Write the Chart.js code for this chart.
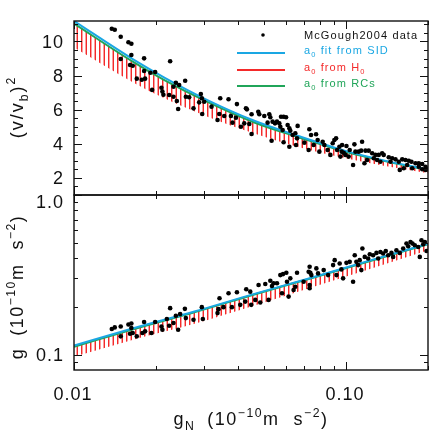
<!DOCTYPE html>
<html>
<head>
<meta charset="utf-8">
<script src="https://cdn.jsdelivr.net/npm/chart.js@4.4.0/dist/chart.umd.min.js"></script>
<style>
  html, body { margin: 0; padding: 0; background: #fff; }
  #wrap { position: relative; width: 436px; height: 436px; }
  #wrap canvas { position: absolute; left: 0; top: 0; }
</style>
</head>
<body>
<div id="wrap">
  <canvas id="chart-top" width="436" height="436"></canvas>
  <canvas id="chart-bottom" width="436" height="436"></canvas>
</div>
<script>
// ---- data ----
// upper panel: (v/vb)^2 against gN
const topX = [0.01377,0.01412,0.01485,0.01585,0.01625,0.01625,0.01485,0.0181,0.01607,0.01644,0.0181,0.01701,0.01775,0.01825,0.01909,0.01987,0.01937,0.02096,0.02113,0.02131,
  0.02256,0.02562,0.02368,0.02435,0.02321,0.02237,0.02321,0.02388,0.02414,0.02577,0.0265,0.02749,0.02926,0.02951,0.03009,0.02884,0.02959,0.03202,0.03369,0.03447,0.03418,0.03565,0.03698,0.03774,0.03825,0.0397,0.03937,0.04107,0.04224,0.04285,0.04321,0.04407,0.04494,0.04494,
  0.04756,0.04797,0.05005,0.05147,0.05221,0.05266,0.05369,0.0548,0.05572,0.05683,0.05766,0.05894,0.06016,0.05732,0.05845,0.06098,0.06186,0.05324,0.05894,0.06237,0.0636,0.06507,0.06636,0.06602,0.06186,0.06546,0.07023,0.07327,0.07434,0.07756,0.07862,0.076,0.07285,0.08203,0.08321,0.07976,0.08557,0.08928,0.09056,0.09188,0.08755,0.09267,0.09448,0.09634,0.09528,0.09799,
  0.09667,0.1003,0.1073,0.1145,0.1031,0.1082,0.1113,0.1136,0.1178,0.1211,0.1247,0.1282,0.1318,0.1357,0.1375,0.1435,0.1477,0.1519,0.1562,0.1608,0.1653,0.17,0.1739,0.1799,0.185,0.1905,0.1959,0.0994,0.1022,0.1061,0.1168,0.1195,0.1264,0.13,0.1337,0.1456,0.1575,0.1629,0.1677,0.175,0.185,0.1905,0.1959,0.199];
const topY = [10.75,10.69,10.28,9.95,9.87,9.21,8.97,9.01,8.62,8.58,8.27,7.82,7.76,7.82,8.17,8.21,7.16,7.29,7.06,6.88,
  8.84,7.70,7.58,7.45,7.35,6.86,6.76,6.51,6.04,6.76,6.73,6.08,6.92,6.67,6.47,6.43,5.75,6.18,5.40,6.67,5.75,5.63,6.61,5.63,5.24,6.33,5.53,5.00,5.20,6.08,6.02,5.16,5.73,4.58,
  5.88,5.73,5.63,5.24,5.73,5.56,5.30,5.20,5.30,5.20,5.59,5.59,5.56,5.00,4.81,5.10,4.91,4.18,4.09,4.77,4.52,4.62,5.05,4.32,3.83,3.93,4.07,4.85,4.52,4.56,4.22,3.93,3.64,4.12,3.93,3.54,3.64,4.03,4.22,4.32,3.35,3.64,3.83,3.54,3.25,3.48,
  3.93,3.87,3.97,4.12,3.64,3.54,3.54,3.60,3.60,3.60,3.45,3.35,3.35,3.45,3.35,3.21,3.15,3.09,2.95,3.09,3.05,3.01,2.95,2.86,2.86,2.82,2.66,3.35,3.25,2.76,2.86,3.05,3.15,3.05,2.95,2.95,2.47,2.57,2.76,2.57,2.66,2.51,2.47,2.51];

// lower panel: g against gN
const botX = [0.01377,0.01412,0.01485,0.01585,0.01625,0.01625,0.01485,0.0181,0.01607,0.01644,0.01784,0.01701,0.01825,0.01926,0.01987,0.02096,0.02113,0.02256,0.02194,0.02237,0.02321,0.02368,0.02414,0.02455,0.02556,0.02577,0.02749,
  0.0295,0.02976,0.03426,0.03397,0.03369,0.03544,0.03698,0.03805,0.0397,0.04083,0.04296,0.04259,0.04444,0.0448,0.04637,0.04768,0.04837,0.05047,0.05266,0.05341,0.0519,0.05414,0.05572,0.05732,0.05864,0.0603,0.06065,0.05815,0.06237,0.06413,0.06507,0.06148,0.06602,0.06982,0.07285,0.07345,
  0.07345,0.07389,0.07452,0.07776,0.07888,0.07345,0.08273,0.08587,0.08959,0.0908,0.0922,0.09471,0.09609,0.09749,0.1003,0.1031,0.1061,0.1076,0.1091,0.1107,0.1122,0.1148,0.1171,0.1138,0.1205,0.1222,0.1257,0.1293,0.1312,0.1337,0.1368,0.1399,0.1428,0.1468,0.1489,0.1531,0.1575,0.1621,0.1667,0.1691,0.1725,0.1754,0.1789,0.1841,0.1893,0.1921,0.1947,0.1866,0.1975];
const botY = [0.1445,0.1479,0.150,0.1544,0.1566,0.1467,0.130,0.1598,0.1351,0.1365,0.1365,0.130,0.1397,0.1365,0.1598,0.150,0.1431,0.1954,0.1669,0.1516,0.1575,0.1749,0.1431,0.1792,0.1934,0.1692,0.1652,
  0.1982,0.1669,0.2254,0.1926,0.1818,0.1982,0.2422,0.1982,0.2457,0.2048,0.2566,0.2147,0.2479,0.2048,0.220,0.2729,0.2117,0.2768,0.2902,0.269,0.220,0.2796,0.2796,0.3148,0.3194,0.3254,0.286,0.2422,0.3003,0.254,0.2663,0.2307,0.3254,0.286,0.3302,0.2729,
  0.3547,0.3254,0.3148,0.3467,0.3226,0.2602,0.3382,0.3148,0.3635,0.3904,0.3148,0.3724,0.3416,0.3003,0.3756,0.3811,0.286,0.4195,0.3811,0.3635,0.3904,0.4617,0.4094,0.3382,0.4001,0.4255,0.4195,0.4335,0.4001,0.4397,0.4298,0.4461,0.4195,0.4335,0.4094,0.4506,0.4335,0.4617,0.4961,0.4773,0.5076,0.4961,0.4842,0.4725,0.5201,0.4912,0.5076,0.4094,0.4461];

// model curves (upper panel)
const curveTopX = [0.01, 0.0165, 0.0214, 0.0308, 0.046, 0.0673, 0.0986, 0.1375, 0.2];
const sidTop    = [11.2, 8.95, 7.9, 6.58, 5.35, 4.44, 3.6, 3.03, 2.49];
const rcTop     = [11.05, 8.8, 7.75, 6.47, 5.25, 4.37, 3.55, 3.0, 2.46];
const h0LowTop  = [9.65, 7.6, 6.68, 5.6, 4.6, 3.8, 3.17, 2.72, 2.28];

// model curves (lower panel)
const curveBotX = [0.01, 0.0165, 0.0277, 0.046, 0.074, 0.12, 0.2];
const sidBot    = [0.114, 0.146, 0.186, 0.240, 0.302, 0.385, 0.495];
const rcBot     = [0.112, 0.144, 0.184, 0.238, 0.300, 0.382, 0.492];
const h0LowBot  = [0.097, 0.124, 0.156, 0.203, 0.262, 0.34, 0.45];

// ticks
const xMajor = [0.01, 0.1];
const xMinor = [0.02, 0.03, 0.04, 0.05, 0.06, 0.07, 0.08, 0.09, 0.2];
const xTickLabels = ['0.01', '0.10'];
const topMajor = [2, 4, 6, 8, 10];
const topMinor = [1, 1.5, 2.5, 3, 3.5, 4.5, 5, 5.5, 6.5, 7, 7.5, 8.5, 9, 9.5, 10.5, 11];
const topTickLabels = ['2', '4', '6', '8', '10'];
const botMajor = [0.1, 1.0];
const botMinor = [0.09, 0.2, 0.3, 0.4, 0.5, 0.6, 0.7, 0.8, 0.9];
const botTickLabels = ['0.1', '1.0'];

const legendText = [
  [['McGough2004 data', 0]],
  [['a', 0], ['0', 1], [' fit from SID', 0]],
  [['a', 0], ['0', 1], [' from H', 0], ['0', 1]],
  [['a', 0], ['0', 1], [' from RCs', 0]]
];

// ---- styling ----
const FONT = '"Liberation Sans", Arial, sans-serif';
const INK = '#111';
const BLUE = '#1aa7e3';
const RED = '#f42a2a';
const GREEN = '#20a559';
const MAJ = 8, MIN = 4;

const zip = (xs, ys) => xs.map((x, i) => ({ x, y: ys[i] }));

function hatch() {
  const c = document.createElement('canvas');
  c.width = 9; c.height = 4;
  const g = c.getContext('2d');
  g.fillStyle = RED; g.fillRect(0, 0, 1, 4); g.fillRect(5, 0, 1, 4);
  g.fillStyle = 'rgba(244,42,42,0.45)'; g.fillRect(1, 0, 1, 4); g.fillRect(4, 0, 1, 4);
  return c.getContext('2d').createPattern(c, 'repeat');
}

// draws text made of normal / subscript / superscript pieces
function richText(ctx, parts, x, y, size, align, color, ls) {
  ctx.save();
  ctx.fillStyle = color;
  ctx.letterSpacing = ls + 'px';
  ctx.textAlign = 'left';
  ctx.textBaseline = 'alphabetic';
  const items = parts.map(p => {
    if (typeof p === 'number') return { w: p };
    const s = p[1] ? size * 0.68 : size;
    ctx.font = s + 'px ' + FONT;
    const dy = p[1] === 1 ? size * 0.3 : p[1] === 2 ? -size * 0.45 : 0;
    return { t: p[0], s, dy, w: ctx.measureText(p[0]).width };
  });
  const total = items.reduce((a, b) => a + b.w, 0);
  let cx = align === 'center' ? x - total / 2 : align === 'right' ? x - total : x;
  items.forEach(it => {
    if (it.t) { ctx.font = it.s + 'px ' + FONT; ctx.fillText(it.t, cx, y + it.dy); }
    cx += it.w;
  });
  ctx.restore();
}

function rotatedText(ctx, parts, x, y, size, ls) {
  ctx.save();
  ctx.translate(x, y);
  ctx.rotate(-Math.PI / 2);
  richText(ctx, parts, 0, 0, size, 'center', INK, ls);
  ctx.restore();
}

// IDL-style box with inward ticks on all four sides
function makeFrame(cfg) {
  return {
    id: 'frame',
    afterDatasetsDraw(chart) {
      const { ctx, chartArea: a } = chart;
      const xs = chart.scales.x, ys = chart.scales.y;
      ctx.save();
      ctx.strokeStyle = INK;
      ctx.lineWidth = 1;
      ctx.beginPath();
      const vx = (v, len) => {
        const p = Math.round(xs.getPixelForValue(v)) + 0.5;
        ctx.moveTo(p, a.top); ctx.lineTo(p, a.top + len);
        ctx.moveTo(p, a.bottom); ctx.lineTo(p, a.bottom - len);
      };
      const hy = (v, len) => {
        const p = Math.round(ys.getPixelForValue(v)) + 0.5;
        ctx.moveTo(a.left, p); ctx.lineTo(a.left + len, p);
        ctx.moveTo(a.right, p); ctx.lineTo(a.right - len, p);
      };
      xMajor.forEach(v => vx(v, MAJ));
      xMinor.forEach(v => vx(v, MIN));
      cfg.yMajor.forEach(v => hy(v, MAJ));
      cfg.yMinor.forEach(v => hy(v, MIN));
      ctx.stroke();
      ctx.lineWidth = 1.4;
      ctx.strokeRect(a.left, a.top, a.right - a.left, a.bottom - a.top);

      // y tick labels
      ctx.fillStyle = INK;
      ctx.font = '18px ' + FONT;
      ctx.letterSpacing = '1px';
      ctx.textAlign = 'right';
      ctx.textBaseline = 'alphabetic';
      cfg.yMajor.forEach((v, i) => {
        let cy = ys.getPixelForValue(v);
        cy = Math.max(cy, a.top + 6.5);
        ctx.fillText(cfg.yLabels[i], 64, cy + 6.5);
      });
      if (cfg.xLabels) {
        ctx.textAlign = 'center';
        xMajor.forEach((v, i) => {
          ctx.fillText(xTickLabels[i], xs.getPixelForValue(v) - 1, 399.5);
        });
      }
      ctx.restore();
      if (cfg.after) cfg.after(ctx);
    }
  };
}

function baseOptions(padTop, padBottom, yScale) {
  return {
    responsive: false,
    animation: false,
    devicePixelRatio: 1,
    layout: { padding: { left: 74, right: 8, top: padTop, bottom: padBottom } },
    plugins: { legend: { display: false }, tooltip: { enabled: false } },
    scales: {
      x: { type: 'logarithmic', min: 0.01, max: 0.2, display: false },
      y: yScale
    }
  };
}

function datasets(dotsX, dotsY, cx, sid, rc, low) {
  return [
    { type: 'scatter', data: zip(dotsX, dotsY), pointRadius: 2.3, pointBackgroundColor: '#000', pointBorderWidth: 0, order: 0 },
    { data: zip(cx, sid), borderColor: BLUE, borderWidth: 2, pointRadius: 0, cubicInterpolationMode: 'monotone', order: 1 },
    { data: zip(cx, rc), borderColor: GREEN, borderWidth: 2, pointRadius: 0, cubicInterpolationMode: 'monotone', order: 2 },
    { data: zip(cx, low), borderWidth: 0, borderColor: 'transparent', pointRadius: 0, cubicInterpolationMode: 'monotone',
      fill: { target: 2 }, backgroundColor: hatch(), order: 3 }
  ];
}

function drawLegend(ctx) {
  // data marker
  ctx.save();
  ctx.fillStyle = '#000';
  ctx.beginPath(); ctx.arc(263, 35, 1.8, 0, Math.PI * 2); ctx.fill();
  const cols = [INK, BLUE, RED, GREEN];
  const rows = [35, 53, 70, 86];
  ctx.lineWidth = 2;
  [1, 2, 3].forEach(i => {
    ctx.strokeStyle = cols[i];
    ctx.beginPath(); ctx.moveTo(237, rows[i]); ctx.lineTo(285, rows[i]); ctx.stroke();
  });
  ctx.restore();
  legendText.forEach((parts, i) => {
    const base = i === 0 ? rows[i] + 4 : rows[i] + 1;
    richText(ctx, parts, 304, base, 11, 'left', cols[i], 1.1);
  });
}

const gUnits = [['(10', 0], ['\u221210', 2], ['m', 0], 14, ['s', 0], ['\u22122', 2], [')', 0]];

new Chart(document.getElementById('chart-top'), {
  type: 'line',
  data: { datasets: datasets(topX, topY, curveTopX, sidTop, rcTop, h0LowTop) },
  options: baseOptions(21, 241, { type: 'linear', min: 1, max: 11.2, display: false }),
  plugins: [makeFrame({
    yMajor: topMajor, yMinor: topMinor, yLabels: topTickLabels, xLabels: false,
    after(ctx) {
      rotatedText(ctx, [['(v/v', 0], ['b', 1], [')', 0], ['2', 2]], 23, 107, 18, 2);
      drawLegend(ctx);
    }
  })]
});

new Chart(document.getElementById('chart-bottom'), {
  type: 'line',
  data: { datasets: datasets(botX, botY, curveBotX, sidBot, rcBot, h0LowBot) },
  options: baseOptions(195, 66, { type: 'logarithmic', min: 0.08, max: 1.0, display: false }),
  plugins: [makeFrame({
    yMajor: botMajor, yMinor: botMinor, yLabels: botTickLabels, xLabels: true,
    after(ctx) {
      rotatedText(ctx, [['g', 0], 12].concat(gUnits), 23, 287, 18, 1.5);
      richText(ctx, [['g', 0], ['N', 1], 12].concat(gUnits), 251, 425, 18, 'center', INK, 1.5);
    }
  })]
});
</script>
</body>
</html>
